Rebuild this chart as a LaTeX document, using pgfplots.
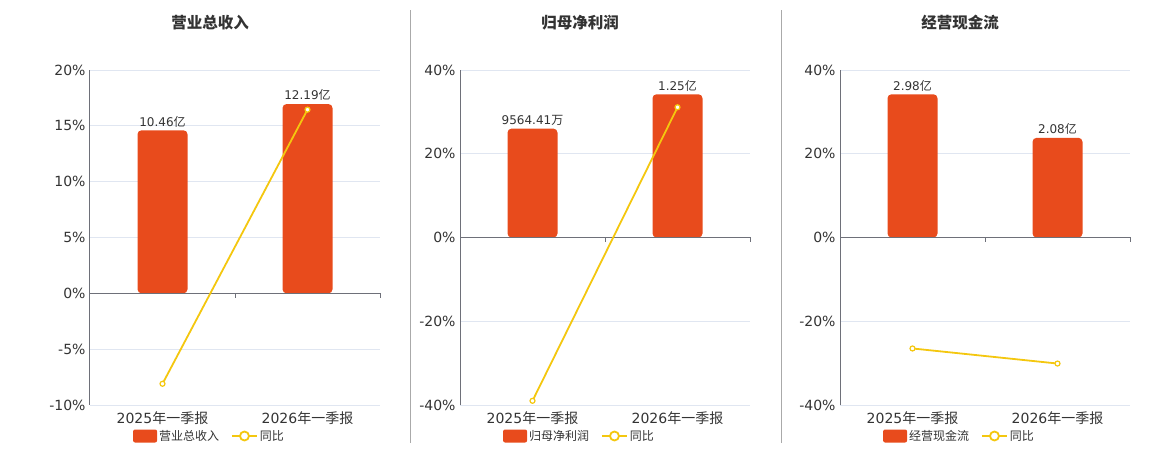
\documentclass[border=0pt]{standalone}
\usepackage{fontspec}
\usepackage{pgfplots}
\pgfplotsset{compat=1.18}
\setmainfont{DejaVu Sans}
\newfontfamily\cjk{Noto Sans CJK SC}
\protected\def\zh#1{{\cjk #1}}
\definecolor{barc}{HTML}{E84B1C}
\definecolor{linec}{HTML}{F4C70F}
\definecolor{gridc}{HTML}{E0E6F1}
\definecolor{axc}{HTML}{6E7079}
\definecolor{txt}{HTML}{333333}
\definecolor{sepc}{HTML}{AAAAAA}
\pgfplotsset{
  panel/.style={
    scale only axis, width=290pt, height=335pt, anchor=south west,
    xmin=-0.5, xmax=1.5, xtick={0,1},
    xticklabels={2025\zh{年一季报},2026\zh{年一季报}},
    axis y line*=left, axis x line*=bottom,
    x axis line style={draw=none},
    y axis line style={draw=axc, line width=1pt},
    major tick length=0pt,
    ymajorgrids, grid style={draw=gridc, line width=0.8pt},
    tick label style={font=\fontsize{14}{16}\selectfont, text=txt},
    xticklabel style={yshift=-3pt},
    yticklabel style={xshift=-1pt},
    clip=false,
    title style={at={(0.414,1)}, anchor=center, yshift=41pt, font=\cjk\bfseries\fontsize{15.5}{18}\selectfont, text=txt},
    legend style={at={(0.412,0)}, anchor=center, yshift=-31pt, draw=none, fill=none,
      legend columns=2, font=\fontsize{12}{14}\selectfont, text=txt,
      /tikz/every even column/.append style={column sep=10pt}, inner sep=0pt},
    legend cell align=left,
  },
  barplot/.style={ybar, bar width=50pt, bar shift=0pt, fill=barc, draw=none, rounded corners=4pt,
    point meta=explicit symbolic, nodes near coords={\pgfplotspointmeta},
    every node near coord/.append style={font=\fontsize{12}{14}\selectfont, text=txt, rounded corners=0pt, inner sep=3pt},
    legend image code/.code={\fill[barc, rounded corners=2pt] (0pt,-6.5pt) rectangle (24pt,6.5pt);}},
  lineplot/.style={sharp plot, draw=linec, line width=1.8pt, mark=*, mark size=2.5pt,
    mark options={fill=white, draw=linec, line width=1.2pt},
    legend image code/.code={\draw[linec, line width=1.8pt] (0pt,0pt) -- (25pt,0pt);
      \draw[linec, line width=1.8pt, fill=white] (12.5pt,0pt) circle (4.5pt);}},
}
\newcommand\zeroline{%
  \draw[axc, line width=1.6pt] (axis cs:-0.5,0) -- (axis cs:1.5,0);
  \draw[axc, line width=1pt] (axis cs:0.5,0) -- ++(0pt,-5pt);
  \draw[axc, line width=1pt] (axis cs:1.5,0) -- ++(0pt,-5pt);}
\begin{document}
\begin{tikzpicture}
\useasboundingbox (0,0) rectangle (1160pt,450pt);
\draw[sepc, line width=1pt] (410pt,7pt) -- (410pt,440pt);
\draw[sepc, line width=1pt] (781pt,7pt) -- (781pt,440pt);
% Panel 1
\begin{axis}[panel, at={(90pt,45pt)}, ymin=-10, ymax=20,
  ytick={-10,-5,0,5,10,15,20},
  yticklabels={-10\%,-5\%,0\%,5\%,10\%,15\%,20\%},
  title={营业总收入}]
\addplot[barplot] coordinates {(0,14.6) [10.46\zh{亿}] (1,16.95) [12.19\zh{亿}]};
\addlegendentry{\zh{营业总收入}}
\zeroline
\addplot[lineplot] coordinates {(0,-8.1) (1,16.45)};
\addlegendentry{\zh{同比}}
\end{axis}
% Panel 2
\begin{axis}[panel, at={(460pt,45pt)}, ymin=-40, ymax=40,
  ytick={-40,-20,0,20,40},
  yticklabels={-40\%,-20\%,0\%,20\%,40\%},
  title={归母净利润}]
\addplot[barplot] coordinates {(0,26.0) [9564.41\zh{万}] (1,34.2) [1.25\zh{亿}]};
\addlegendentry{\zh{归母净利润}}
\zeroline
\addplot[lineplot] coordinates {(0,-39.0) (1,31.1)};
\addlegendentry{\zh{同比}}
\end{axis}
% Panel 3
\begin{axis}[panel, at={(840pt,45pt)}, ymin=-40, ymax=40,
  ytick={-40,-20,0,20,40},
  yticklabels={-40\%,-20\%,0\%,20\%,40\%},
  title={经营现金流}]
\addplot[barplot] coordinates {(0,34.2) [2.98\zh{亿}] (1,23.8) [2.08\zh{亿}]};
\addlegendentry{\zh{经营现金流}}
\zeroline
\addplot[lineplot] coordinates {(0,-26.5) (1,-30.1)};
\addlegendentry{\zh{同比}}
\end{axis}
\end{tikzpicture}
\end{document}
